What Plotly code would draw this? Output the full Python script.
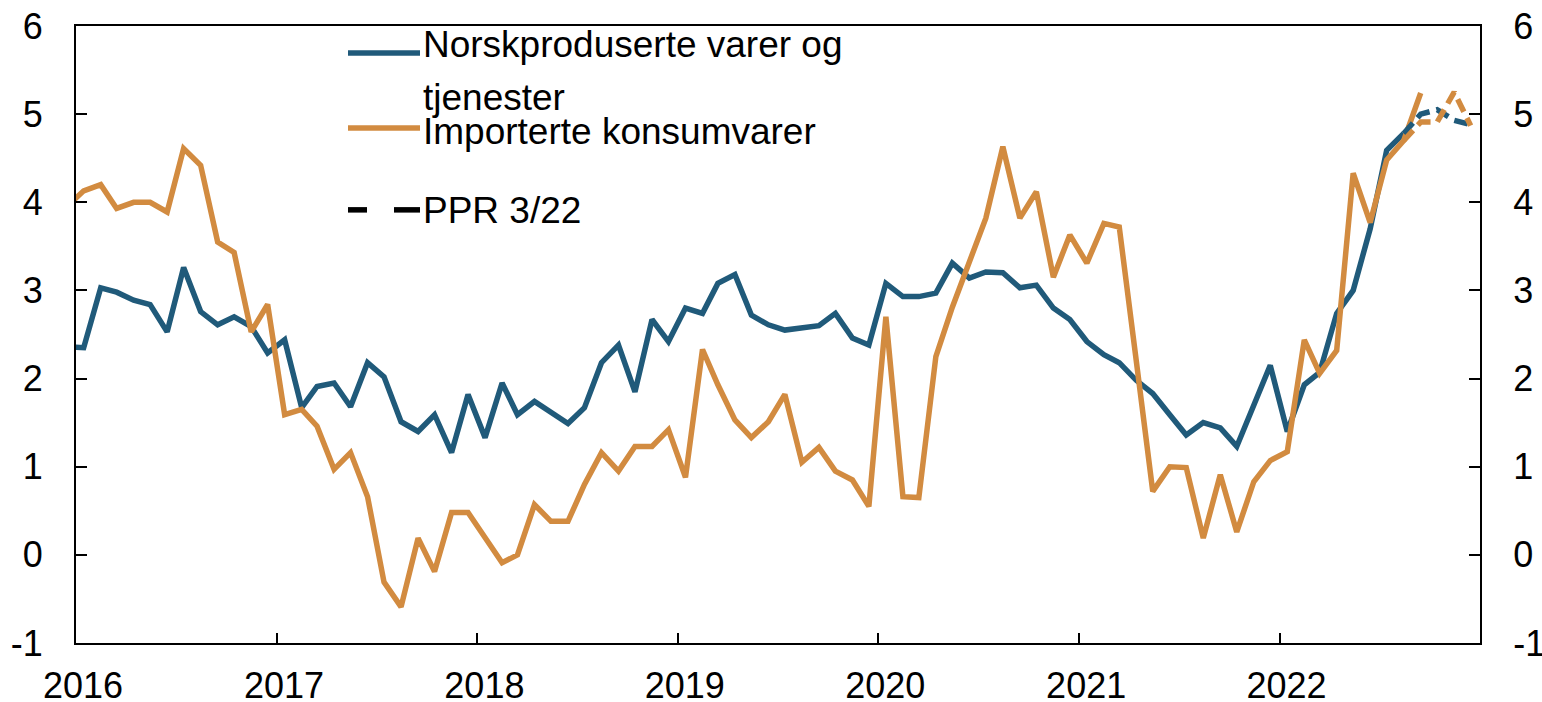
import plotly.graph_objects as go

# ---------------- data (monthly, 12-month change, %) ----------------
months_actual_blue = (["2015-12"] +
                      [f"{y}-{m:02d}" for y in range(2016, 2022) for m in range(1, 13)] +
                      [f"2022-{m:02d}" for m in range(1, 9)])
months_actual_orange = months_actual_blue + ["2022-09"]
months_ppr = ["2022-08", "2022-09", "2022-10", "2022-11", "2022-12"]

norsk = [2.36,
         2.35, 3.03, 2.98, 2.89, 2.84, 2.53, 3.26, 2.76, 2.61, 2.70, 2.59, 2.29,
         2.44, 1.67, 1.91, 1.95, 1.68, 2.18, 2.02, 1.51, 1.40, 1.59, 1.16, 1.82,
         1.33, 1.95, 1.59, 1.74, 1.62, 1.49, 1.67, 2.18, 2.38, 1.85, 2.67, 2.42,
         2.80, 2.74, 3.08, 3.18, 2.72, 2.61, 2.55, 2.58, 2.60, 2.74, 2.46, 2.38,
         3.08, 2.93, 2.93, 2.97, 3.31, 3.14, 3.21, 3.20, 3.03, 3.06, 2.80, 2.67,
         2.42, 2.27, 2.18, 1.98, 1.83, 1.59, 1.36, 1.50, 1.44, 1.23, 1.68, 2.15,
         1.40, 1.93, 2.07, 2.74, 3.00, 3.70, 4.59, 4.78]

import_ = [3.95,
           4.13, 4.20, 3.93, 4.00, 4.00, 3.89, 4.61, 4.42, 3.55, 3.43, 2.53, 2.84,
           1.59, 1.65, 1.46, 0.97, 1.16, 0.66, -0.31, -0.59, 0.19, -0.19, 0.48, 0.48,
           0.20, -0.09, 0.00, 0.57, 0.38, 0.38, 0.80, 1.16, 0.95, 1.23, 1.23, 1.42,
           0.88, 2.33, 1.93, 1.53, 1.33, 1.51, 1.82, 1.05, 1.22, 0.95, 0.85, 0.55,
           2.70, 0.66, 0.65, 2.25, 2.81, 3.31, 3.82, 4.63, 3.82, 4.12, 3.15, 3.63,
           3.31, 3.76, 3.72, 2.20, 0.72, 1.00, 0.99, 0.19, 0.91, 0.26, 0.83, 1.07,
           1.17, 2.44, 2.06, 2.32, 4.33, 3.77, 4.48, 4.70, 5.24]

norsk_ppr = [4.78, 5.00, 5.05, 4.93, 4.88]
import_ppr = [4.70, 4.91, 4.91, 5.25, 4.87]

year_ticks = ["2016", "2017", "2018", "2019", "2020", "2021", "2022"]
y_ticks = [-1, 0, 1, 2, 3, 4, 5, 6]

legend_names = ["Norskproduserte varer og", "tjenester",
                "Importerte konsumvarer", "PPR 3/22"]

# ---------------- styles ----------------
BLUE = "#205A7A"
ORANGE = "#D28B40"
FONT = "Liberation Sans, Arial, sans-serif"
FS_TICK = 36
FS_LEG = 37
W, H = 1542, 702
# plot area in window pixels: x 76..1480, y 26..643.5
L, T = 76, 26
R = W - 1480
B = H - 643.5


def mid(m):
    return m + "-15"


fig = go.Figure()
fig.add_trace(go.Scatter(x=[mid(m) for m in months_actual_blue], y=norsk,
                         mode="lines", line=dict(color=BLUE, width=5.5),
                         showlegend=False, name=legend_names[0] + " " + legend_names[1]))
fig.add_trace(go.Scatter(x=[mid(m) for m in months_ppr], y=norsk_ppr, yaxis="y2",
                         mode="lines", line=dict(color=BLUE, width=5.5, dash="14px,7px"),
                         showlegend=False, name="PPR 3/22"))
fig.add_trace(go.Scatter(x=[mid(m) for m in months_actual_orange], y=import_,
                         mode="lines", line=dict(color=ORANGE, width=5.5),
                         showlegend=False, name=legend_names[2]))
fig.add_trace(go.Scatter(x=[mid(m) for m in months_ppr], y=import_ppr, yaxis="y2",
                         mode="lines", line=dict(color=ORANGE, width=5.5, dash="14px,7px"),
                         showlegend=False, name="PPR 3/22"))

axis_common = dict(showgrid=False, zeroline=False, showline=True, linecolor="black",
                   linewidth=2, ticks="inside", tickcolor="black", tickwidth=2,
                   automargin=False, ticklabeloverflow="allow",
                   tickfont=dict(family=FONT, size=FS_TICK, color="black"))

fig.update_layout(
    width=W, height=H,
    margin=dict(l=L, r=R, t=T, b=B, autoexpand=False),
    plot_bgcolor="white", paper_bgcolor="white",
    xaxis=dict(**axis_common, range=["2016-01-01", "2023-01-01"], ticklen=10,
               mirror=True,
               tickvals=[f"{y}-01-01" for y in year_ticks], ticktext=year_ticks,
               ticklabelstandoff=10, ticklabelshift=7),
    yaxis=dict(**axis_common, range=[-1, 6], ticklen=11, tickvals=y_ticks,
               ticktext=[str(v) for v in y_ticks], ticklabelstandoff=24),
    yaxis2=dict(**axis_common, range=[-1, 6], ticklen=11, tickvals=y_ticks,
                ticktext=[str(v) for v in y_ticks], overlaying="y", side="right",
                ticklabelstandoff=24),
    showlegend=False,
)

# ---------------- legend (drawn manually; window-pixel -> paper coords) ----------------
pw, ph = W - L - R, H - T - B


def px(xw):
    return (xw - L) / pw


def py(yw):
    return (H - B - yw) / ph


shapes = [
    dict(type="line", xref="paper", yref="paper", x0=px(348), x1=px(420), y0=py(53), y1=py(53),
         line=dict(color=BLUE, width=5.5)),
    dict(type="line", xref="paper", yref="paper", x0=px(348), x1=px(420), y0=py(128), y1=py(128),
         line=dict(color=ORANGE, width=5.5)),
    dict(type="line", xref="paper", yref="paper", x0=px(348), x1=px(367), y0=py(210), y1=py(210),
         line=dict(color="black", width=5.5)),
    dict(type="line", xref="paper", yref="paper", x0=px(394), x1=px(420), y0=py(210), y1=py(210),
         line=dict(color="black", width=5.5)),
]
fig.update_layout(shapes=shapes)

for text, ymid in zip(legend_names, [45, 98, 132, 211]):
    fig.add_annotation(xref="paper", yref="paper", x=px(421), y=py(ymid), text=text,
                       showarrow=False, xanchor="left", yanchor="middle",
                       font=dict(family=FONT, size=FS_LEG, color="black"))

fig.write_html("out.html",
               config={"displayModeBar": False},
               post_script="document.body.style.margin='0';"
                           "document.body.style.overflow='hidden';")
